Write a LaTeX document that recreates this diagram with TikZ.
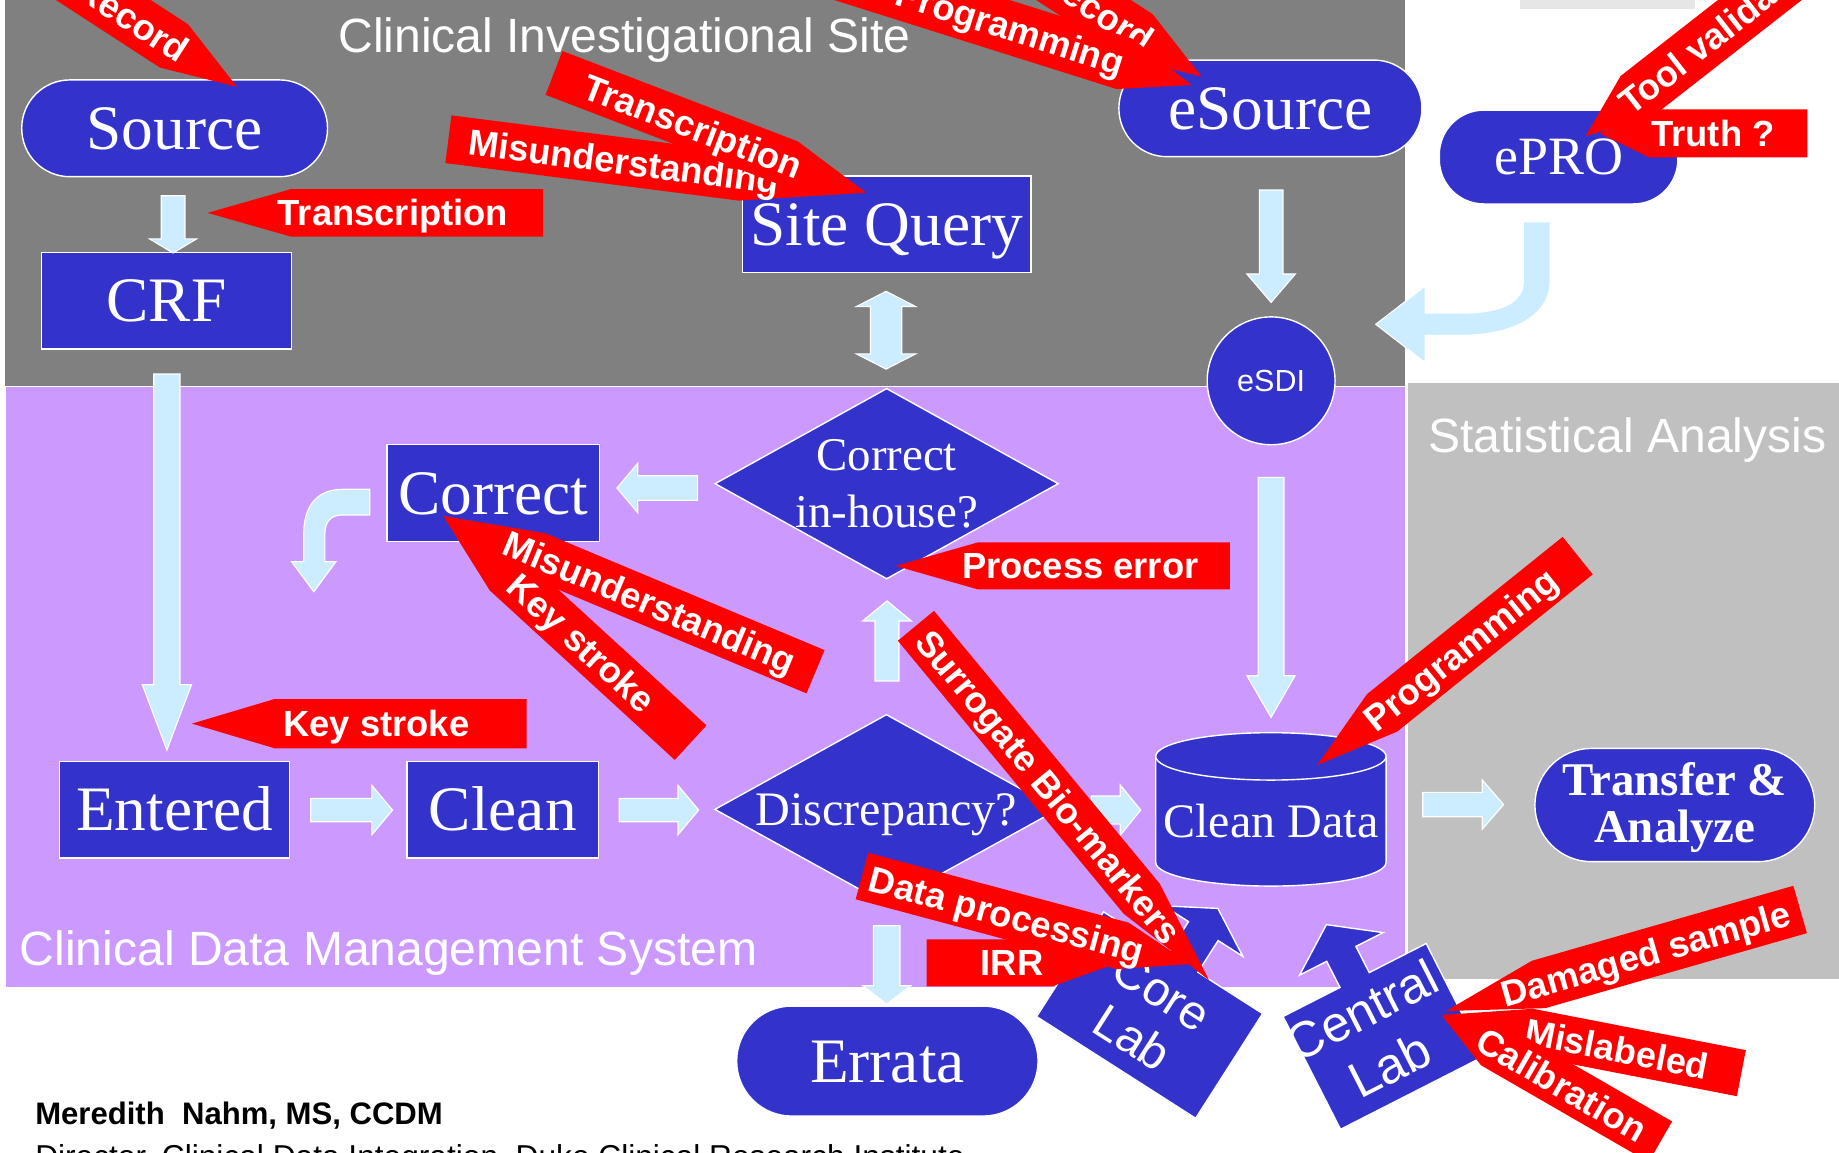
\documentclass[tikz,border=0pt]{standalone}
\usepackage{fontspec}
\setmainfont{Liberation Serif}
\newfontfamily\arialfont{Liberation Sans}
\usetikzlibrary{calc,shapes.geometric}
\definecolor{bggray}{HTML}{808080}
\definecolor{bgpurple}{HTML}{CC99FF}
\definecolor{bgstat}{HTML}{C0C0C0}
\definecolor{nodeblue}{HTML}{3333CC}
\definecolor{lblue}{HTML}{CCECFF}
\definecolor{errred}{HTML}{FF0000}
\definecolor{topgray}{HTML}{E6E6E6}
\tikzset{
  bluebox/.style={draw=white, line width=1.2pt, fill=nodeblue, text=white, inner sep=0pt},
  big/.style={font=\fontsize{54}{60}\selectfont, text height=36pt, text depth=0pt, text=white, inner sep=0pt},
  mid/.style={font=\fontsize{41}{48}\selectfont, text height=27pt, text depth=0pt, text=white, inner sep=0pt},
  sectitle/.style={font=\arialfont\fontsize{41}{48}\selectfont, text=white, inner sep=0pt, anchor=base west},
  lbarrow/.style={fill=lblue, draw=white, line width=1pt, line join=miter},
  errtext/.style={font=\arialfont\bfseries\fontsize{31}{36}\selectfont, text=white, inner sep=0pt, text height=22pt, text depth=0pt},
  labtext/.style={text=white, align=center, inner sep=0pt}
}
% straight block arrow: #1 start, #2 angle, #3 length, #4 shaft width, #5 head width, #6 head length
\newcommand{\lbarrowpath}[6]{%
  \path[lbarrow, shift={#1}, rotate=#2] (0,{-#4/2}) -- ({#3-#6},{-#4/2}) -- ({#3-#6},{-#5/2}) -- (#3,0) -- ({#3-#6},{#5/2}) -- ({#3-#6},{#4/2}) -- (0,{#4/2}) -- cycle;}
\newcommand{\lbdoublearrow}[6]{%
  \path[lbarrow, shift={#1}, rotate=#2] (0,0) -- (#6,{-#5/2}) -- (#6,{-#4/2}) -- ({#3-#6},{-#4/2}) -- ({#3-#6},{-#5/2}) -- (#3,0) -- ({#3-#6},{#5/2}) -- ({#3-#6},{#4/2}) -- (#6,{#4/2}) -- (#6,{#5/2}) -- cycle;}
% red callout: #1 name, #2 tip, #3 angle tip->body, #4 point length, #5 body length, #6 height, #7 text distance, #8 text flip, #9 text
\newcommand{\redcallout}[9]{%
  \begin{scope}[shift={#2}, rotate=#3]
    \fill[errred] (0,0) -- (#4,{#6/2}) -- ({#4+#5},{#6/2}) -- ({#4+#5},{-#6/2}) -- (#4,{-#6/2}) -- cycle;
    \node[errtext, transform shape, rotate=#8] (#1) at (#7,0) {#9};
  \end{scope}}
\begin{document}
\begin{tikzpicture}[x=1pt,y=-1pt]
\path[use as bounding box] (0,0) rectangle (1568,983);
\clip (0,0) rectangle (1568,983);
\fill[white] (0,0) rectangle (1568,983);
% regions
\path[fill=bggray,draw=white,line width=1pt] (3.4,-5) rectangle (1198.3,329.7);
\path[fill=bgstat,draw=white,line width=1pt] (1199.8,326) rectangle (1575,835.6);
\path[fill=bgpurple,draw=white,line width=1pt] (4.2,329.7) rectangle (1198.3,842.2);
\fill[topgray] (1295.6,-2) rectangle (1445.1,7.7);
\node[sectitle] (cis) at (288.3,44.9) {Clinical Investigational Site};
\node[sectitle] (stat) at (1217.5,386) {Statistical Analysis};
\node[sectitle] (cdms) at (16.7,822.8) {Clinical Data Management System};

% nodes
\node[bluebox,big,rounded corners=41pt,minimum width=260.7pt,minimum height=82.5pt] (source) at (148.9,109.4) {Source};
\node[bluebox,big,minimum width=213pt,minimum height=82.5pt] (crf) at (142,256.4) {CRF};
\node[bluebox,big,minimum width=246.3pt,minimum height=82.5pt] (sitequery) at (756,191.3) {Site Query};
\node[bluebox,big,rounded corners=41pt,minimum width=258.4pt,minimum height=82.4pt] (esource) at (1083.2,92.4) {eSource};
\node[bluebox,rounded corners=38pt,minimum width=203.4pt,minimum height=80pt,font=\fontsize{46}{50}\selectfont,text height=30.5pt,text depth=0pt] (epro) at (1328.9,133.9) {ePRO};
\node[bluebox,circle,minimum size=109pt,font=\arialfont\fontsize{26}{30}\selectfont,text height=18.6pt,text depth=0pt] (esdi) at (1083.8,324.7) {eSDI};
\node[bluebox,big,minimum width=181.3pt,minimum height=83pt] (correct) at (420.7,420.4) {Correct};
\node[bluebox,diamond,minimum width=293pt,minimum height=162.6pt] (cih) at (756,412.4) {};
\node[labtext,font=\fontsize{40}{48}\selectfont] (cihtext) at (cih.center) {Correct\\in-house?};
\node[bluebox,diamond,minimum width=293pt,minimum height=162pt] (discrepancy) at (755.8,690.1) {};
\node[mid] (disctext) at (discrepancy.center) {Discrepancy?};
\node[bluebox,big,minimum width=195.8pt,minimum height=82pt] (entered) at (148.8,690.4) {Entered};
\node[bluebox,big,minimum width=163.2pt,minimum height=82pt] (clean) at (428.7,690.4) {Clean};
% Clean Data cylinder
\path[bluebox] (985.4,644.9) -- (985.4,735.3) .. controls (985.4,746.5) and (1029.4,755.5) .. (1083.6,755.5) .. controls (1137.8,755.5) and (1181.8,746.5) .. (1181.8,735.3) -- (1181.8,644.9) -- cycle;
\path[bluebox] (1083.6,644.9) ellipse [x radius=98.2pt, y radius=20.2pt];
\coordinate (cyleast) at (1181.8,686);
\node[mid] (cleandata) at (1083.6,700.6) {Clean Data};
\node[bluebox,rounded corners=48.3pt,minimum width=238.6pt,minimum height=96.6pt] (transfer) at (1428,686.4) {};
\node[labtext,font=\bfseries\fontsize{40}{40}\selectfont,text depth=0pt] (transfertext) at ($(transfer.center)+(0,-2)$) {Transfer \&\\Analyze};
\node[bluebox,big,rounded corners=46.9pt,minimum width=257pt,minimum height=93.8pt] (errata) at (756.6,904.7) {Errata};

% light blue block arrows
\lbarrowpath{($(source.south)+(-1.3,15.65)$)}{-90}{48.8}{20.2}{40}{12}
\lbarrowpath{($(crf.south)+(0.3,20.65)$)}{-90}{320.6}{22.3}{41.9}{55.7}
\lbdoublearrow{($(sitequery.south)+(-0.5,15.25)$)}{-90}{66.3}{26.6}{50.7}{13}
\lbarrowpath{($(cih.west)+(-14.25,3.7)$)}{180}{68.6}{21}{42}{17.7}
\lbarrowpath{($(entered.east)+(17.6,0.3)$)}{0}{69.8}{20}{42}{17.6}
\lbarrowpath{($(clean.east)+(17,0.3)$)}{0}{67.8}{20}{42}{17.6}
\lbarrowpath{($(discrepancy.north)+(0.5,-27.8)$)}{90}{68.3}{20.4}{41.7}{17.1}
\lbarrowpath{($(discrepancy.east)+(27.6,0.6)$)}{0}{42.1}{24}{42.7}{17.4}
\lbarrowpath{($(esource.south)+(0.6,27.8)$)}{-90}{95.8}{20.1}{41.4}{24.2}
\lbarrowpath{($(esdi.south)+(-0.1,27.2)$)}{-90}{204.7}{22}{41}{35.6}
\lbarrowpath{($(cyleast)+(31.3,0)$)}{0}{68.9}{20.8}{42}{18.2}
\lbarrowpath{($(discrepancy.south)+(0.2,17.6)$)}{-90}{66.8}{22.7}{40.7}{15.6}
% bent arrow from Correct
\path[lbarrow] (315.2,417.2) -- (292,417.2) .. controls (270,417.2) and (259,432) .. (259,455) -- (259,478.9) -- (248.6,478.9) -- (267.6,504.5) -- (286.4,478.9) -- (277,478.9) -- (277,455) .. controls (277,445) and (282,439.1) .. (292,439.1) -- (315.2,439.1) -- cycle;
% bent arrow ePRO -> eSDI
\path[lbarrow] (1298.8,189) -- (1298.8,240) .. controls (1298.8,258) and (1280,267) .. (1245,267) -- (1215.2,267) -- (1215.2,243.9) -- (1173,276.5) -- (1215.2,309.2) -- (1215.2,286) -- (1245,286) .. controls (1292,286) and (1321.7,268) .. (1321.7,240) -- (1321.7,189) -- cycle;

% Core Lab
\begin{scope}[shift={(980.2,865.5)}, rotate=-32.6]
  \path[bluebox] (-80.5,53) -- (80.5,53) -- (80.5,-53) -- (15,-53) -- (15,-85) -- (40,-85) -- (0,-108) -- (-40,-85) -- (-15,-85) -- (-15,-53) -- (-80.5,-53) -- cycle;
  \node[labtext, transform shape, font=\arialfont\fontsize{41}{46.6}\selectfont] (corelab) at (-2,1) {Core\\Lab};
\end{scope}
% Central Lab
\begin{scope}[shift={(1179.5,883.7)}, rotate=27]
  \path[bluebox] (-68.5,54) -- (68.5,54) -- (68.5,-54) -- (14,-54) -- (14,-79) -- (40,-79) -- (0,-107) -- (-40,-79) -- (-14,-79) -- (-14,-54) -- (-68.5,-54) -- cycle;
  \node[labtext, transform shape, font=\arialfont\fontsize{43}{52}\selectfont] (centrallab) at (-6,-2) {Central\\Lab};
\end{scope}

% red error callouts
\redcallout{rec1}{(202,74)}{147}{64}{150}{44}{106}{180}{Record}
\redcallout{tr1}{(177,181.5)}{0}{71}{215}{40.5}{158}{0}{Transcription}
\redcallout{rec2}{(1024.5,65.4)}{147}{64}{150}{44}{106}{180}{Record}
\redcallout{prog1}{(1016,72.5)}{162.5}{60}{280}{45}{162}{180}{Programming}
\redcallout{mis1}{(738.4,164.3)}{172.7}{107}{252}{41}{208}{180}{Misunderstanding}
\redcallout{tr2}{(738.4,164.3)}{159}{70}{215}{40}{158}{180}{Transcription}
\redcallout{truth}{(1364,113.7)}{0}{42}{135}{41}{96.5}{0}{Truth ?}
\redcallout{tool}{(1352,116)}{38}{55}{260}{44}{149}{0}{Tool validation}
\redcallout{perr}{(763.6,482.5)}{0}{70}{215}{40}{157.5}{0}{Process error}
\redcallout{key1}{(378,440)}{-42.5}{72}{214}{40}{160}{0}{Key stroke}
\redcallout{mis2}{(378,440)}{-22.7}{86}{258}{40}{191}{0}{Misunderstanding}
\redcallout{key2}{(163.7,617)}{0}{70.4}{215}{42}{157.3}{0}{Key stroke}
\redcallout{dp}{(1015,822)}{165}{60}{230}{41}{162}{180}{Data processing}
\redcallout{irr}{(953,821)}{180}{56}{107}{40}{90}{180}{IRR}
\redcallout{sur}{(1030.8,835.6)}{129.6}{90}{302}{40}{214}{180}{Surrogate Bio-markers}
\redcallout{prog2}{(1123.1,652.3)}{38.8}{71}{214}{41}{157}{0}{Programming}
\redcallout{mis3}{(1229.5,865.4)}{-11}{75}{185}{40}{152}{0}{Mislabeled}
\redcallout{cal}{(1229.5,866)}{-30}{50}{165}{40}{118}{0}{Calibration}
\redcallout{dmg}{(1233,862)}{16}{82}{232}{42}{177}{0}{Damaged sample}

% footer
\node[anchor=base west, inner sep=0pt, font=\arialfont\bfseries\fontsize{26.5}{30}\selectfont] (author) at (29.9,959.2) {Meredith~~Nahm, MS, CCDM};
\node[anchor=base west, inner sep=0pt, font=\arialfont\fontsize{27}{30}\selectfont] (affil) at (29.9,995.6) {Director, Clinical Data Integration, Duke Clinical Research Institute};
\end{tikzpicture}
\end{document}
